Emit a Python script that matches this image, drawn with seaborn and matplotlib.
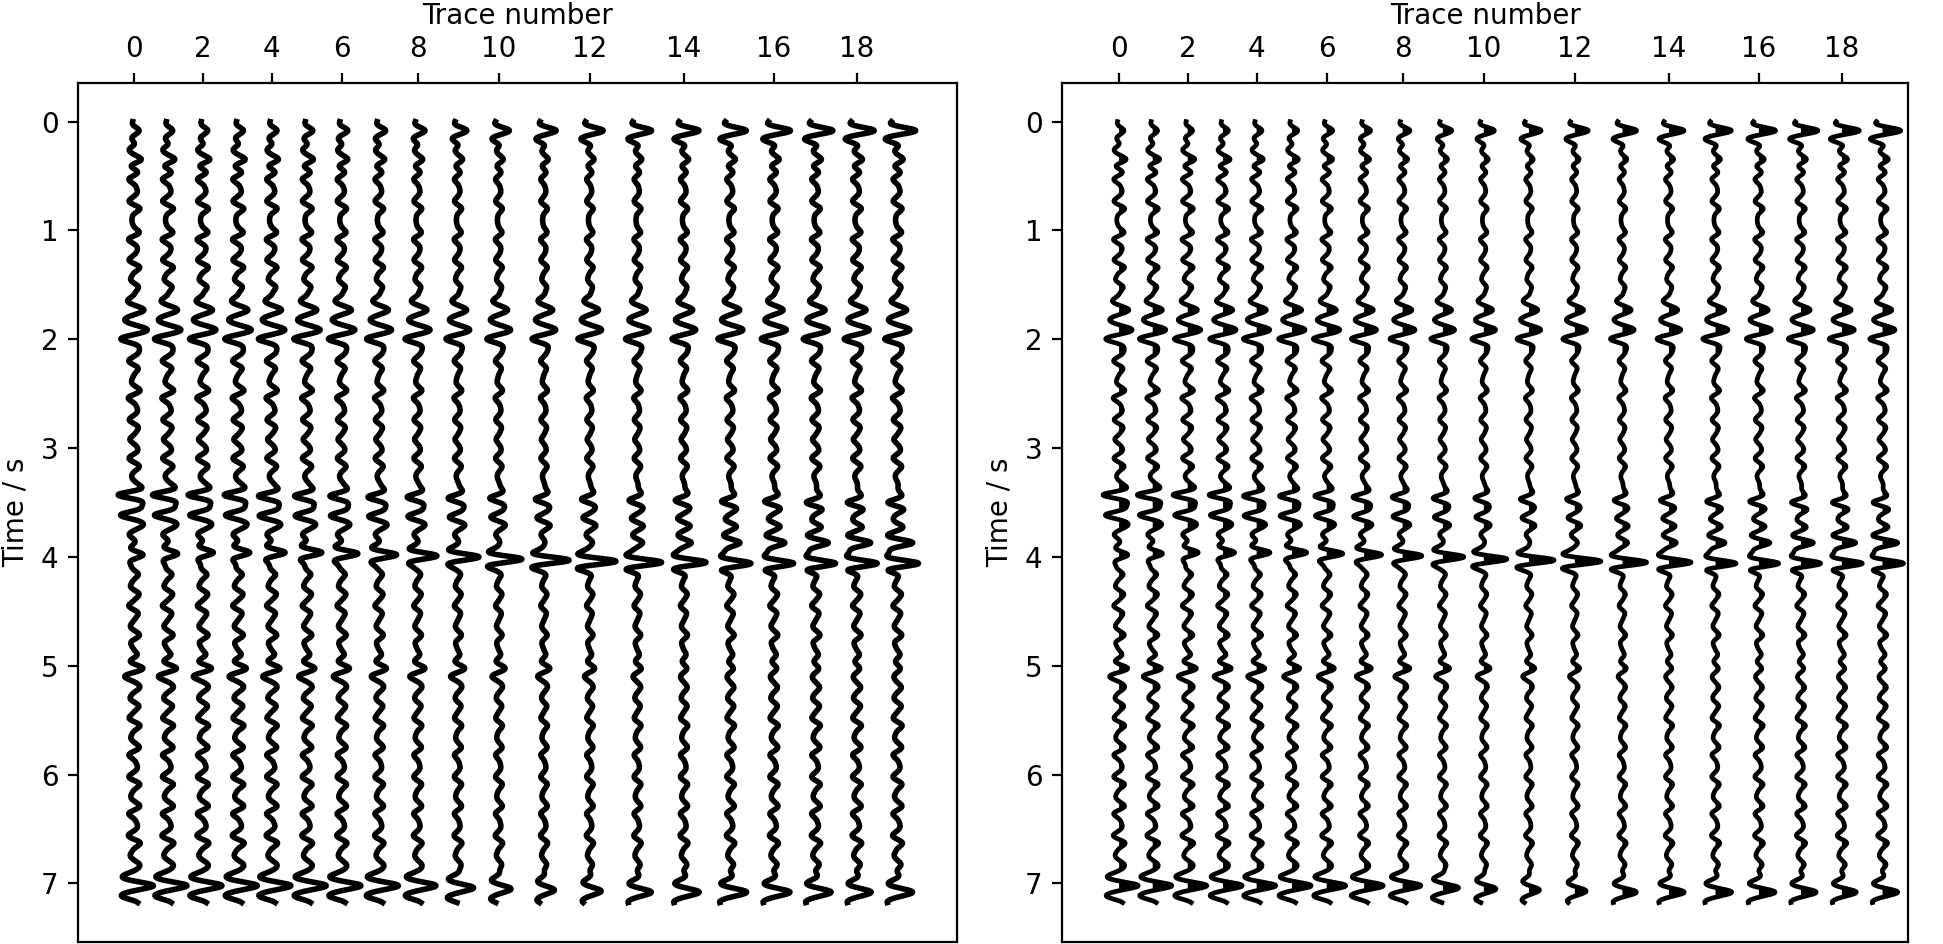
import numpy as np
import pandas as pd
import seaborn as sns
import matplotlib.pyplot as plt

# trace positions along the section and labels
trace_x = [0.00, 0.96, 1.96, 2.97, 3.93, 4.94, 5.93, 7.00, 8.10, 9.25,
           10.42, 11.71, 13.02, 14.38, 15.71, 17.04, 18.28, 19.48, 20.65, 21.81]
tick_labels = [0, 2, 4, 6, 8, 10, 12, 14, 16, 18]
time_ticks = [0, 1, 2, 3, 4, 5, 6, 7]

dt = 0.004
nt = 1795
freq = 5.8

# shallow event near the top, grows with trace number
top_amp = [0.12, 0.12, 0.12, 0.13, 0.13, 0.14, 0.15, 0.16, 0.18, 0.22,
           0.26, 0.30, 0.33, 0.35, 0.37, 0.39, 0.41, 0.42, 0.43, 0.45]
# packet around 1.6 - 2.0 s
pk_times = [1.64, 1.73, 1.82, 1.91, 2.00]
pk_amps = [-0.12, 0.20, -0.14, 0.24, -0.30]
pk_scale = [1, 1, 1, 1, 1, 1, 1, 0.95, 0.95, 0.9,
            0.9, 0.9, 0.9, 0.9, 0.9, 0.95, 0.95, 0.95, 0.95, 0.95]
# event near 3.45 s
c_t = [3.43, 3.43, 3.43, 3.43, 3.44, 3.44, 3.44, 3.45, 3.45, 3.46,
       3.46, 3.47, 3.47, 3.48, 3.48, 3.49, 3.49, 3.50, 3.50, 3.50]
c_a = [-0.46, -0.44, -0.42, -0.40, -0.38, -0.36, -0.34, -0.32, -0.30, -0.28,
       -0.26, -0.25, -0.24, -0.24, -0.25, -0.26, -0.27, -0.28, -0.28, -0.28]
# event near 4.0 s
d_t = [3.98, 3.97, 3.96, 3.96, 3.96, 3.96, 3.97, 3.98, 3.99, 4.00,
       4.02, 4.03, 4.04, 4.05, 4.05, 4.06, 4.06, 4.06, 4.06, 4.06]
d_a = [0.25, 0.28, 0.30, 0.33, 0.38, 0.42, 0.46, 0.50, 0.55, 0.60,
       0.66, 0.72, 0.75, 0.70, 0.64, 0.60, 0.58, 0.58, 0.60, 0.62]
# extra arrival at 3.87 s on the far traces
e_a = [0, 0, 0, 0, 0, 0, 0, 0, 0, 0,
       0, 0, 0.05, 0.12, 0.18, 0.24, 0.28, 0.32, 0.36, 0.40]
# event near 5.05 s
f_a = [0.18, 0.18, 0.18, 0.17, 0.17, 0.16, 0.16, 0.15, 0.15, 0.14,
       0.13, 0.12, 0.10, 0.08, 0.06, 0.06, 0.06, 0.06, 0.06, 0.06]
# deepest event near 7.05 s
g_t = [7.02, 7.02, 7.02, 7.02, 7.02, 7.02, 7.02, 7.02, 7.02, 7.04,
       7.05, 7.06, 7.07, 7.08, 7.08, 7.08, 7.08, 7.08, 7.08, 7.08]
g_a = [0.44, 0.44, 0.44, 0.44, 0.44, 0.44, 0.44, 0.44, 0.42, 0.36,
       0.28, 0.24, 0.26, 0.32, 0.35, 0.37, 0.37, 0.35, 0.33, 0.35]
# weak background reflections
bg_t = [0.25, 0.35,
        0.46, 0.53, 0.64, 0.73, 0.80, 0.91, 1.02, 1.08, 1.17, 1.27, 1.34, 1.45, 1.52,
        2.11, 2.20, 2.27, 2.38, 2.47, 2.54, 2.65, 2.74, 2.81, 2.92, 3.02, 3.09, 3.17, 3.27,
        3.62, 3.71, 3.80,
        4.16, 4.27, 4.34, 4.45, 4.52, 4.63, 4.72, 4.79, 4.90,
        5.20, 5.30, 5.37, 5.48, 5.55, 5.66, 5.75, 5.82, 5.93, 6.02, 6.09, 6.20,
        6.29, 6.36, 6.47, 6.56, 6.63, 6.74, 6.83]
bg_a = [-0.12, 0.18,
        0.06, -0.12, 0.05, -0.08, 0.12, -0.04, 0.09, -0.11, 0.04, -0.09, 0.11, -0.05, 0.09,
        0.07, -0.11, 0.06, -0.04, 0.10, -0.12, 0.05, -0.10, 0.06, -0.11, 0.04, -0.09, 0.10, -0.05,
        -0.14, 0.13, -0.10,
        0.11, -0.05, 0.10, -0.12, 0.05, -0.07, 0.11, -0.04, 0.09,
        0.11, -0.05, 0.10, -0.08, 0.12, -0.06, 0.08, -0.11, 0.05, -0.09, 0.11, -0.06,
        0.09, -0.11, 0.05, -0.10, 0.12, -0.07, 0.10]
bg_scale = [1.0, 1.0, 1.0, 1.0, 0.95, 0.9, 0.85, 0.78, 0.72, 0.66,
            0.62, 0.6, 0.6, 0.62, 0.66, 0.7, 0.75, 0.78, 0.8, 0.82]

t = np.arange(nt) * dt


def ricker(t0, amp):
    arg = (np.pi * freq * (t - t0)) ** 2
    return amp * (1 - 2 * arg) * np.exp(-arg)


def build_trace(i):
    tr = np.zeros(nt)
    tr += ricker(0.08, top_amp[i]) + ricker(0.17, -0.5 * top_amp[i])
    for tb, ab in zip(bg_t, bg_a):
        tr += ricker(tb, ab * bg_scale[i])
    for tp, ap in zip(pk_times, pk_amps):
        tr += ricker(tp, ap * pk_scale[i])
    tr += ricker(c_t[i], c_a[i]) + ricker(c_t[i] + 0.18, 0.5 * c_a[i])
    tr += ricker(d_t[i], d_a[i])
    tr += ricker(3.87, e_a[i])
    tr += ricker(5.02, f_a[i]) + ricker(5.10, -f_a[i])
    tr += ricker(g_t[i] - 0.09, -0.4 * g_a[i]) + ricker(g_t[i], g_a[i]) \
        + ricker(g_t[i] + 0.10, -0.6 * g_a[i])
    return tr


traces = [build_trace(i) for i in range(len(trace_x))]

fig = plt.figure(figsize=(9.715, 4.72), dpi=200)
ax1 = fig.add_axes([0.0401, 0.0025, 0.4524, 0.9099])
ax2 = fig.add_axes([0.5466, 0.0025, 0.4356, 0.9099])

for ax, fill in [(ax1, False), (ax2, True)]:
    for x0, tr in zip(trace_x, traces):
        sns.lineplot(x=x0 + tr, y=t, sort=False, estimator=None,
                     color="k", lw=2.0 if not fill else 1.7, ax=ax)
        if fill:
            ax.fill_betweenx(t, x0, x0 + tr, where=tr > 0, color="k",
                             lw=0, interpolate=True)
    ax.xaxis.tick_top()
    ax.xaxis.set_label_position("top")
    ax.set_xticks(trace_x[::2])
    ax.set_xticklabels(tick_labels)
    ax.set_yticks(time_ticks)
    ax.set_ylim(7.535, -0.358)
    ax.set_xlabel("Trace number")
    ax.set_ylabel("Time / s")

ax1.set_xlim(-1.61, 23.51)
ax2.set_xlim(-1.63, 22.55)

fig.savefig("out.png", dpi=200)
